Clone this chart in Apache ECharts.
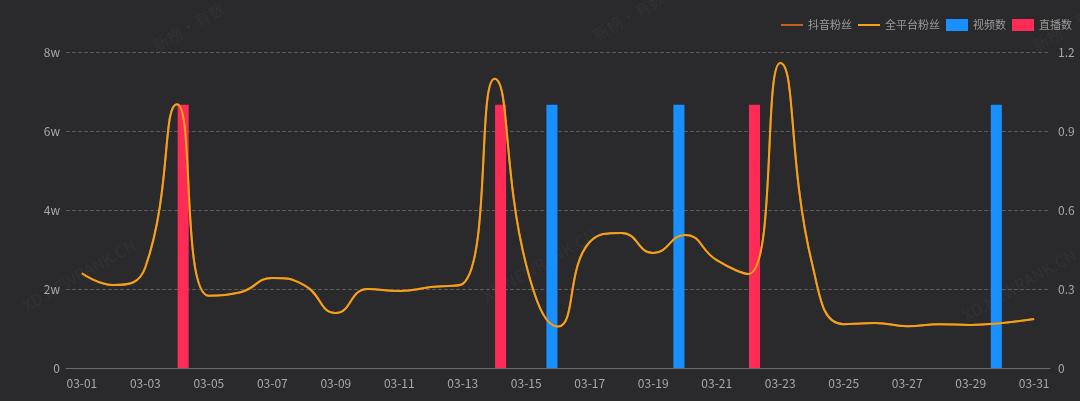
<!DOCTYPE html>
<html>
<head>
<meta charset="utf-8">
<script src="https://cdn.jsdelivr.net/npm/echarts@6/dist/echarts.min.js"></script>
<style>
html,body{margin:0;padding:0;background:#2a2a2c;}
#c{width:1080px;height:401px;}
</style>
</head>
<body>
<div id="c"></div>
<script>
const categories = ['03-01','03-02','03-03','03-04','03-05','03-06','03-07','03-08','03-09','03-10','03-11','03-12','03-13','03-14','03-15','03-16','03-17','03-18','03-19','03-20','03-21','03-22','03-23','03-24','03-25','03-26','03-27','03-28','03-29','03-30','03-31'];
const douyinFans = [24000,21000,25500,66800,18300,19200,22800,21000,13900,20000,19500,20500,21300,73200,26000,10500,31900,34200,29100,33700,27300,23800,77200,26600,11100,11400,10600,11100,10900,11400,12400];
const allFans = [24000,21000,25500,66800,18300,19200,22800,21000,13900,20000,19500,20500,21300,73200,26000,10500,31900,34200,29100,33700,27300,23800,77200,26600,11100,11400,10600,11100,10900,11400,12400];
const videoCount = [0,0,0,0,0,0,0,0,0,0,0,0,0,0,0,1,0,0,0,1,0,0,0,0,0,0,0,0,0,1,0];
const liveCount = [0,0,0,1,0,0,0,0,0,0,0,0,0,1,0,0,0,0,0,0,0,1,0,0,0,0,0,0,0,0,0];
const leftTicks = [0,20000,40000,60000,80000];
const rightTicks = [0,0.3,0.6,0.9,1.2];

const chart = echarts.init(document.getElementById('c'));
const font = '"Noto Sans CJK SC","Noto Sans",sans-serif';
const wm = [];
const wmPos = [[20,300],[480,290],[960,310],[150,40],[590,30],[1030,40]];
wmPos.forEach((p,i)=>{
  wm.push({type:'text',x:p[0],y:p[1],rotation:Math.PI/6,silent:true,z:0,
    style:{text: i<3 ? 'XD.NEWRANK.CN' : '新榜·有数',fill:'rgba(255,255,255,0.04)',font:'16px '+font}});
});
const lineIcon = 'path://M0,0L22,0L22,2L0,2Z';
chart.setOption({
  backgroundColor:'#2a2a2c',
  textStyle:{fontFamily:font},
  graphic: wm,
  legend:{
    right:3, top:14, itemWidth:22, itemHeight:12, itemGap:6, symbolKeepAspect:true,
    textStyle:{color:'#9a9a9a', fontSize:11, fontFamily:font},
    data:[
      {name:'抖音粉丝', icon:lineIcon},
      {name:'全平台粉丝', icon:lineIcon},
      {name:'视频数', icon:'rect'},
      {name:'直播数', icon:'rect'}
    ]
  },
  grid:{left:66, right:30, top:52, bottom:33},
  xAxis:{
    type:'category', data:categories, boundaryGap:true,
    axisLine:{lineStyle:{color:'#6a6a6e'}},
    axisTick:{alignWithLabel:true, interval:1, lineStyle:{color:'#6a6a6e'}},
    axisLabel:{interval:1, color:'#a8a8a8', fontSize:12, margin:9}
  },
  yAxis:[
    {type:'value', min:leftTicks[0], max:leftTicks[leftTicks.length-1], interval:leftTicks[1]-leftTicks[0],
     axisLine:{show:false}, axisTick:{show:false},
     axisLabel:{color:'#a8a8a8', fontSize:12, formatter:v=> v===0?'0':(v/10000)+'w', margin:6},
     splitLine:{lineStyle:{color:'#5a5a5e', type:'dashed'}}},
    {type:'value', min:rightTicks[0], max:rightTicks[rightTicks.length-1], interval:0.3,
     axisLine:{show:false}, axisTick:{show:false},
     axisLabel:{color:'#a8a8a8', fontSize:12, margin:8, formatter:v=>String(Math.round(v*10)/10)},
     splitLine:{show:false}}
  ],
  series:[
    {name:'抖音粉丝', type:'line', data:douyinFans, smooth:true, symbol:'none', yAxisIndex:0,
     itemStyle:{color:'#c4621c'}, lineStyle:{color:'#c4621c', width:2}, z:3},
    {name:'全平台粉丝', type:'line', data:allFans, smooth:true, symbol:'none', yAxisIndex:0,
     itemStyle:{color:'#f2a219'}, lineStyle:{color:'#f2a219', width:2}, z:4},
    {name:'视频数', type:'bar', data:videoCount, yAxisIndex:1, itemStyle:{color:'#1890ff'}, z:2},
    {name:'直播数', type:'bar', data:liveCount, yAxisIndex:1, itemStyle:{color:'#ff2b57'}, z:2}
  ]
});
</script>
</body>
</html>
